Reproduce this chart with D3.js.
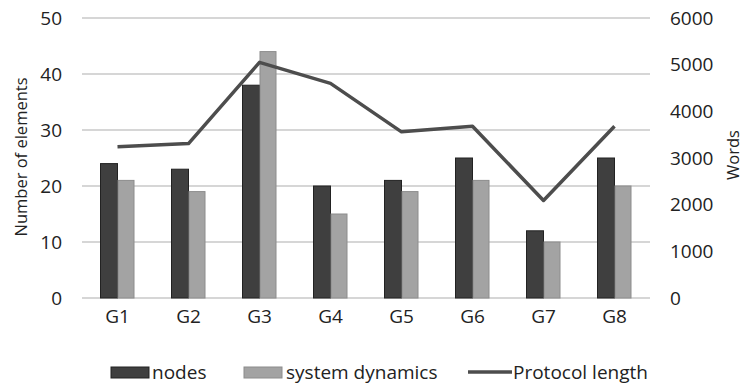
<!DOCTYPE html>
<html>
<head>
<meta charset="utf-8">
<script src="https://cdn.jsdelivr.net/npm/d3@7"></script>
<style>
  html, body { margin: 0; padding: 0; background: #fff; }
  svg { display: block; font-family: "Open Sans", "DejaVu Sans", sans-serif; }
</style>
</head>
<body>
<svg id="chart" width="743" height="386"></svg>
<script>
// Categories and series
const categories = ["G1", "G2", "G3", "G4", "G5", "G6", "G7", "G8"];
const nodes = [24, 23, 38, 20, 21, 25, 12, 25];
const systemDynamics = [21, 19, 44, 15, 19, 21, 10, 20];
const protocolLength = [3240, 3310, 5050, 4600, 3560, 3680, 2090, 3680];
const leftTicks = [0, 10, 20, 30, 40, 50];
const rightTicks = [0, 1000, 2000, 3000, 4000, 5000, 6000];

const svg = d3.select("#chart");
const plot = { left: 82, right: 650, top: 18, bottom: 298 };
const fontSize = 19;
const titleSize = 16.5;
const textColor = "#222";

const x = d3.scaleBand().domain(categories).range([plot.left, plot.right]).paddingInner(0).paddingOuter(0);
const yL = d3.scaleLinear().domain([0, 50]).range([plot.bottom, plot.top]);
const yR = d3.scaleLinear().domain([0, 6000]).range([plot.bottom, plot.top]);

const barW = 17;

// Gridlines
svg.append("g").selectAll("line").data(leftTicks).join("line")
  .attr("x1", plot.left).attr("x2", plot.right)
  .attr("y1", d => yL(d)).attr("y2", d => yL(d))
  .attr("stroke", "#c9c9c9").attr("stroke-width", 1.5);

// Left axis labels
const leftAxis = svg.append("g").attr("transform", `translate(${plot.left - 20},0)`)
  .call(d3.axisLeft(yL).tickValues(leftTicks).tickSize(0).tickPadding(0));
leftAxis.select(".domain").remove();
leftAxis.selectAll("text").attr("font-size", fontSize).attr("fill", textColor)
  .attr("font-family", "Open Sans, sans-serif");

// Right axis labels
const rightAxis = svg.append("g").attr("transform", `translate(${plot.right + 20},0)`)
  .call(d3.axisRight(yR).tickValues(rightTicks).tickSize(0).tickPadding(0).tickFormat(d3.format("d")));
rightAxis.select(".domain").remove();
rightAxis.selectAll("text").attr("font-size", fontSize).attr("fill", textColor)
  .attr("font-family", "Open Sans, sans-serif");

// X axis labels
const xAxis = svg.append("g").attr("transform", `translate(0,${plot.bottom + 11})`)
  .call(d3.axisBottom(x).tickSize(0).tickPadding(0));
xAxis.select(".domain").remove();
xAxis.selectAll("text").attr("font-size", fontSize).attr("fill", textColor)
  .attr("font-family", "Open Sans, sans-serif");

// Bars
const bars = svg.append("g");
bars.selectAll("rect.nodes").data(categories).join("rect")
  .attr("class", "nodes")
  .attr("x", d => x(d) + x.bandwidth() / 2 - barW)
  .attr("y", (d, i) => yL(nodes[i]))
  .attr("width", barW)
  .attr("height", (d, i) => yL(0) - yL(nodes[i]))
  .attr("fill", "#3f3f3f").attr("stroke", "#222").attr("stroke-width", 1);
bars.selectAll("rect.sd").data(categories).join("rect")
  .attr("class", "sd")
  .attr("x", d => x(d) + x.bandwidth() / 2 + 0.5)
  .attr("y", (d, i) => yL(systemDynamics[i]))
  .attr("width", barW - 1)
  .attr("height", (d, i) => yL(0) - yL(systemDynamics[i]))
  .attr("fill", "#a3a3a3").attr("stroke", "#8c8c8c").attr("stroke-width", 1);

// Protocol length line
const line = d3.line()
  .x((d, i) => x(categories[i]) + x.bandwidth() / 2)
  .y(d => yR(d));
svg.append("path").datum(protocolLength)
  .attr("d", line)
  .attr("fill", "none").attr("stroke", "#4d4d4d").attr("stroke-width", 3.5)
  .attr("stroke-linejoin", "round");

// Axis titles
svg.append("text")
  .attr("transform", "translate(20,157) rotate(-90)")
  .attr("text-anchor", "middle").attr("dominant-baseline", "central")
  .attr("font-size", titleSize).attr("fill", textColor)
  .text("Number of elements");
svg.append("text")
  .attr("transform", "translate(732,155) rotate(-90)")
  .attr("text-anchor", "middle").attr("dominant-baseline", "central")
  .attr("font-size", titleSize).attr("fill", textColor)
  .text("Words");

// Legend
const legend = svg.append("g").attr("font-size", fontSize).attr("fill", textColor);
legend.append("rect").attr("x", 111).attr("y", 367).attr("width", 38).attr("height", 11)
  .attr("fill", "#3f3f3f").attr("stroke", "#222");
legend.append("text").attr("x", 152).attr("y", 372).attr("dominant-baseline", "central")
  .attr("fill", textColor).text("nodes");
legend.append("rect").attr("x", 244).attr("y", 367).attr("width", 38).attr("height", 11)
  .attr("fill", "#a3a3a3").attr("stroke", "#8c8c8c");
legend.append("text").attr("x", 286).attr("y", 372).attr("dominant-baseline", "central")
  .attr("fill", textColor).text("system dynamics");
legend.append("line").attr("x1", 468).attr("x2", 512).attr("y1", 372).attr("y2", 372)
  .attr("stroke", "#4d4d4d").attr("stroke-width", 3.5);
legend.append("text").attr("x", 513).attr("y", 372).attr("dominant-baseline", "central")
  .attr("fill", textColor).text("Protocol length");
</script>
</body>
</html>
